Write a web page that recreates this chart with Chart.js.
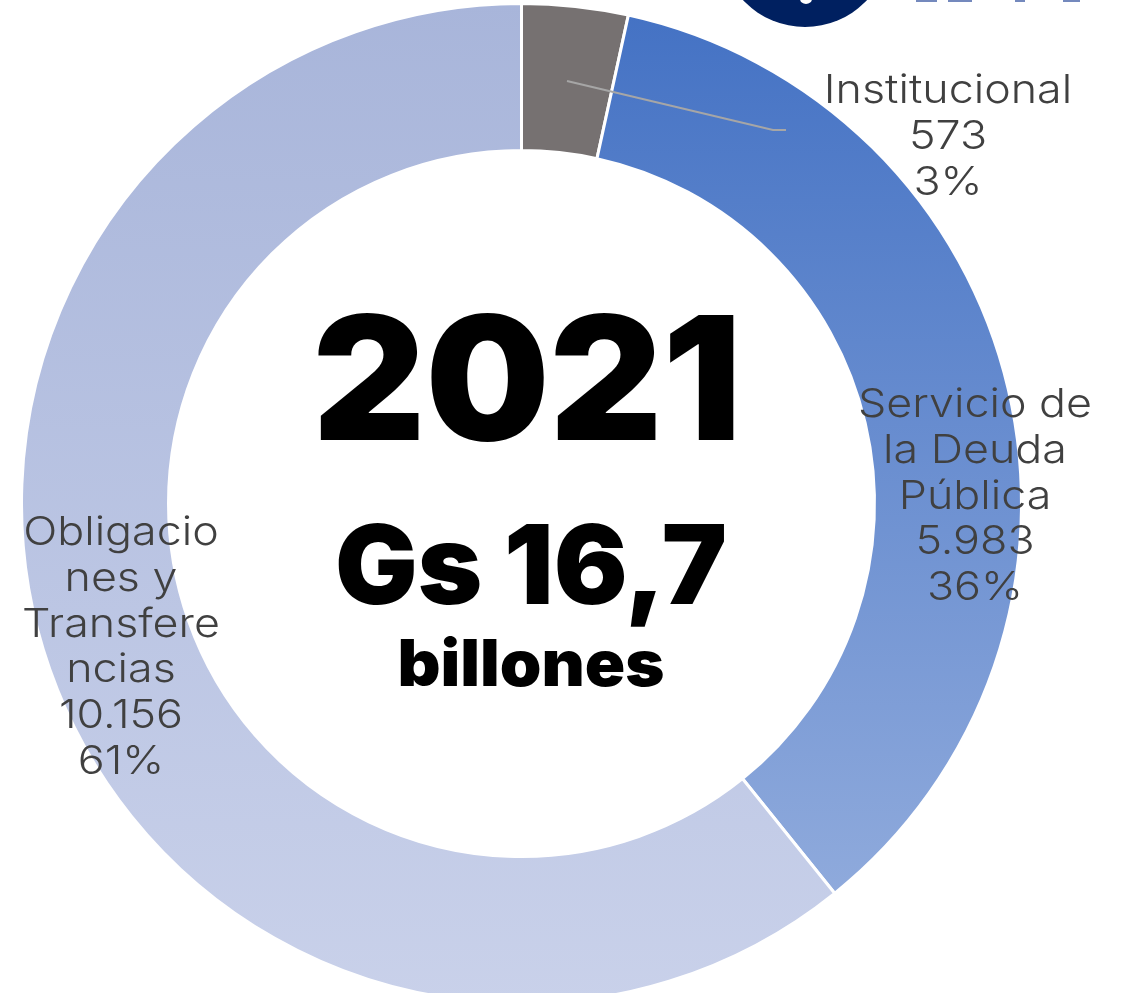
<!DOCTYPE html>
<html>
<head>
<meta charset="utf-8">
<script src="https://cdn.jsdelivr.net/npm/chart.js@4.4.1/dist/chart.umd.min.js"></script>
<style>
  html, body { margin: 0; padding: 0; background: #fff; overflow: hidden; }
  #wrap { position: relative; width: 1122px; height: 1010px; }
  #logo { position: absolute; left: 720px; top: -143px; width: 170px; height: 170px; border-radius: 50%; background: #002060; }
  #logoDot { position: absolute; left: 800px; top: -6px; width: 12px; height: 10px; border-radius: 50%; background: #fff; }
  .frag { position: absolute; top: 0; height: 2px; background: #7489bd; }
</style>
</head>
<body>
<div id="wrap">
  <canvas id="myChart" width="1122" height="1010"></canvas>
  <div id="logo"></div>
  <div id="logoDot"></div>
  <div class="frag" style="left:916px;width:21px"></div>
  <div class="frag" style="left:948px;width:24px"></div>
  <div class="frag" style="left:1015px;width:10px"></div>
  <div class="frag" style="left:1063px;width:17px"></div>
</div>
<script>
const categories = ['Institucional', 'Servicio de la Deuda Pública', 'Obligaciones y Transferencias'];
const values = [573, 5983, 10156];
// how the labels wrap in the reference
const labelLines = [
    ['Institucional'],
    ['Servicio de', 'la Deuda', 'Pública'],
    ['Obligacio', 'nes y', 'Transfere', 'ncias']
];
const centerYear = '2021';
const centerTotal = 'Gs 16,7';
const centerUnit = 'billones';

const ctx = document.getElementById('myChart').getContext('2d');
const total = values.reduce((a, b) => a + b, 0);

function fmt(n) {
    return String(n).replace(/\B(?=(\d{3})+(?!\d))/g, '.');
}

function grad(chart, from, to, c1, c2) {
    const area = chart.chartArea;
    if (!area) return c1;
    const h = area.bottom - area.top;
    const g = chart.ctx.createLinearGradient(0, area.top + h * from, 0, area.top + h * to);
    g.addColorStop(0, c1);
    g.addColorStop(1, c2);
    return g;
}

function sliceColor(c) {
    if (c.dataIndex === 0) return '#767171';
    if (c.dataIndex === 1) return grad(c.chart, 0.01, 0.89, '#4472c4', '#8faadc');
    return grad(c.chart, 0, 1, '#a8b5da', '#c9d1ea');
}

// text drawn squeezed / stretched to a target width
function fitText(c, text, cx, base, font, width) {
    c.save();
    c.font = font;
    const w = c.measureText(text).width;
    c.translate(cx, base);
    c.scale(width / w, 1);
    c.textAlign = 'center';
    c.textBaseline = 'alphabetic';
    c.fillText(text, 0, 0);
    c.restore();
}

const labelSpots = [
    { x: 948, y: 103 },
    { x: 975, y: 417 },
    { x: 121, y: 545 }
];

const labelPlugin = {
    id: 'labelPlugin',
    afterDraw(chart) {
        const c = chart.ctx;
        c.save();
        // leader line for the small slice
        c.strokeStyle = '#a6a6a6';
        c.lineWidth = 2;
        c.beginPath();
        c.moveTo(567, 81);
        c.lineTo(773, 130);
        c.lineTo(786, 130);
        c.stroke();

        c.fillStyle = '#404040';
        c.font = '300 40px Inter';
        c.textAlign = 'center';
        c.textBaseline = 'alphabetic';
        values.forEach((v, i) => {
            const lines = labelLines[i].concat([fmt(v), Math.round(v / total * 100) + '%']);
            lines.forEach((t, j) => {
                c.save();
                c.translate(labelSpots[i].x, labelSpots[i].y + j * 45.8);
                c.scale(1.12, 1);
                c.fillText(t, 0, 0);
                c.restore();
            });
        });

        c.fillStyle = '#000';
        fitText(c, centerYear, 527, 440, '900 172px Inter', 429);
        fitText(c, centerTotal, 531, 604, '900 110px Inter', 392);
        fitText(c, centerUnit, 531, 686, '900 64px Inter', 267);
        c.restore();
    }
};

new Chart(ctx, {
    type: 'doughnut',
    data: {
        labels: categories,
        datasets: [{
            data: values,
            backgroundColor: sliceColor,
            borderColor: '#ffffff',
            borderWidth: 3
        }]
    },
    options: {
        responsive: false,
        animation: false,
        cutout: '70.6%',
        layout: { padding: { top: 2, bottom: 5, left: 20, right: 99 } },
        plugins: {
            legend: { display: false },
            tooltip: { enabled: false }
        }
    },
    plugins: [labelPlugin]
});
</script>
</body>
</html>
